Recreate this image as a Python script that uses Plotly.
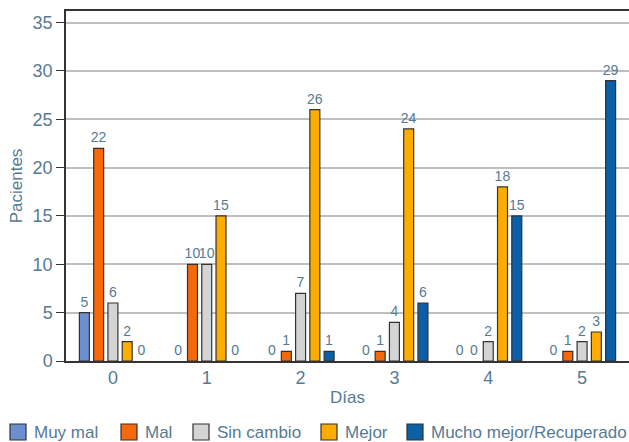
import plotly.graph_objects as go

dias = ["0", "1", "2", "3", "4", "5"]
series_names = ["Muy mal", "Mal", "Sin cambio", "Mejor", "Mucho mejor/Recuperado"]
muy_mal = [5, 0, 0, 0, 0, 0]
mal = [22, 10, 1, 1, 0, 1]
sin_cambio = [6, 10, 7, 4, 2, 2]
mejor = [2, 15, 26, 24, 18, 3]
mucho_mejor = [0, 0, 1, 6, 15, 29]
colors = ["#6b8fd1", "#f5690a", "#d4d4d4", "#ffac00", "#0a5fa6"]

txt_color = "#567a94"
font_family = "Liberation Sans, Arial, sans-serif"

W, H = 629, 442
ML, MR, MT, MB = 66, 0, 11, 81

fig = go.Figure()
for name, vals, c in zip(series_names, [muy_mal, mal, sin_cambio, mejor, mucho_mejor], colors):
    fig.add_trace(go.Bar(
        x=dias, y=vals, name=name, showlegend=False,
        marker=dict(color=c, line=dict(color="#333333", width=[1.2 if v > 0 else 0 for v in vals])),
        text=[str(v) for v in vals], textposition="outside", cliponaxis=False,
        textfont=dict(color=txt_color, size=14, family=font_family),
    ))

# Custom legend (swatch + text) along the bottom
legend_x_px = [10, 121, 193, 321, 407]   # swatch left edges, pixels
sw = 16
legend_y_px = 432                          # centre line, pixels
pw = W - ML - MR
ph = H - MT - MB
def px2x(p):
    return (p - ML) / pw
def py2y(p):
    return (H - MB - p) / ph

for name, c, lx in zip(series_names, colors, legend_x_px):
    fig.add_shape(type="rect", xref="paper", yref="paper",
                  x0=px2x(lx), x1=px2x(lx + sw),
                  y0=py2y(legend_y_px + sw / 2), y1=py2y(legend_y_px - sw / 2),
                  fillcolor=c, line=dict(color="#333333", width=1.2))
    fig.add_annotation(xref="paper", yref="paper", x=px2x(lx + sw + 6), y=py2y(legend_y_px),
                       xanchor="left", yanchor="middle", text=name, showarrow=False,
                       font=dict(size=17, color=txt_color, family=font_family))

fig.update_layout(
    width=W, height=H,
    margin=dict(l=ML, r=MR, t=MT, b=MB, autoexpand=False),
    paper_bgcolor="white", plot_bgcolor="white",
    barmode="group", bargap=0.24, bargroupgap=0.3,
    uniformtext=dict(minsize=14, mode="show"),
    font=dict(family=font_family, color=txt_color, size=16),
    showlegend=False,
    xaxis=dict(title=dict(text="Días", font=dict(size=17), standoff=4),
               showline=True, linecolor="#333333", linewidth=1.5, mirror=True,
               ticks="", tickfont=dict(size=18)),
    yaxis=dict(title=dict(text="Pacientes", font=dict(size=17), standoff=6),
               range=[0, 36.2], dtick=5, showgrid=True, gridcolor="#bfbfbf", gridwidth=1.5,
               showline=True, linecolor="#333333", linewidth=1.5, mirror=False,
               ticks="outside", ticklen=8, tickcolor="#333333", tickfont=dict(size=18),
               zeroline=False),
)
fig.write_html(
    "out.html",
    config={"displayModeBar": False},
    post_script="document.body.style.margin='0';document.body.style.overflow='hidden';",
)
